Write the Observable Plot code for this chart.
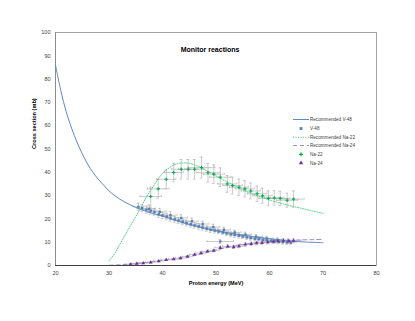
<!DOCTYPE html>
<html><head><meta charset="utf-8">
<script src="https://cdn.jsdelivr.net/npm/d3@7"></script>
<script src="https://cdn.jsdelivr.net/npm/@observablehq/plot@0.6"></script>
<style>body{margin:0;background:#fff}</style></head>
<body><div id="chart"></div>
<script>
const xTicks = [20, 30, 40, 50, 60, 70, 80];
const yTicks = [0, 10, 20, 30, 40, 50, 60, 70, 80, 90, 100];

// Recommended curves
const recV48E = [20, 21, 22, 23, 24, 25, 26, 27, 28, 29, 30, 32, 34, 36, 38, 40, 45, 50, 55, 60, 65, 70];
const recV48S = [86, 75, 66, 59, 53, 48, 43.5, 40, 37, 34.5, 32, 28.5, 26, 24, 22.5, 21.2, 17.6, 15, 13, 11.5, 10.3, 9.8];
const recNa22E = [30, 31, 32, 33, 34, 35, 36, 37, 38, 39, 40, 41, 42, 43, 44, 45, 46, 47, 48, 49, 50, 51, 52, 53, 54, 55, 56, 57, 58, 59, 60, 62, 64, 66, 68, 70];
const recNa22S = [2, 5, 9, 13, 17, 21, 25, 29.5, 33, 36.5, 39.5, 41.5, 43, 43.8, 44, 43.8, 43.2, 42.2, 41, 39.8, 38.5, 37.2, 36, 34.8, 33.6, 32.5, 31.5, 30.6, 29.7, 28.9, 28.1, 26.8, 25.6, 24.5, 23.4, 22.4];
const recNa24E = [30, 32, 34, 36, 38, 40, 42, 44, 46, 48, 50, 52, 54, 56, 58, 60, 62, 64, 66, 68, 70];
const recNa24S = [0.1, 0.3, 0.6, 1.1, 1.6, 2.2, 2.9, 3.7, 4.6, 5.6, 6.7, 7.7, 8.6, 9.3, 9.9, 10.3, 10.6, 10.8, 11.0, 11.1, 11.2];

// V-48 measured
const v48E = [35.5, 36.2, 37.0, 37.8, 38.5, 39.3, 40.0, 40.8, 41.5, 42.3, 43.0, 43.8, 44.5, 45.3, 46.0, 46.8, 47.5, 48.3, 49.0, 49.8, 50.5, 51.3, 52.0, 52.8, 53.5, 54.3, 55.0, 55.8, 56.5, 57.3, 58.0, 58.8, 59.5, 60.3, 61.0, 61.8, 62.5, 63.3, 64.0,
              37.5, 39.5, 41.5, 43.5, 45.5, 47.5, 49.5, 51.5, 53.5, 55.5, 57.5, 59.5, 61.5, 63.5, 50.8];
const v48S = [25.2, 24.6, 24.0, 23.5, 23.0, 22.0, 21.5, 21.0, 20.3, 19.8, 19.3, 18.8, 18.2, 17.7, 17.2, 16.8, 16.3, 15.8, 15.3, 15.0, 14.6, 14.2, 13.8, 13.4, 13.1, 12.8, 12.5, 12.1, 11.8, 11.5, 11.3, 11.0, 10.8, 10.6, 10.4, 10.2, 10.0, 9.9, 9.8,
              24.3, 23.0, 21.6, 20.4, 19.0, 17.8, 16.5, 15.3, 14.2, 13.3, 12.4, 11.6, 11.0, 10.6, 10.3];
const v48dS = [1.5, 1.5, 1.5, 1.5, 1.4, 1.4, 1.4, 1.4, 1.3, 1.3, 1.3, 1.3, 1.2, 1.2, 1.2, 1.2, 1.1, 1.1, 1.1, 1.1, 1.0, 1.0, 1.0, 1.0, 1.0, 1.0, 0.9, 0.9, 0.9, 0.9, 0.9, 0.9, 0.9, 0.8, 0.8, 0.8, 0.8, 0.8, 0.8,
               1.6, 1.5, 1.4, 1.4, 1.3, 1.2, 1.2, 1.1, 1.0, 1.0, 0.9, 0.9, 0.8, 0.8, 0.8];
const v48dE = [1.0, 1.0, 1.0, 1.0, 1.0, 1.0, 1.0, 1.0, 1.0, 1.0, 1.0, 1.0, 1.0, 1.0, 1.0, 1.0, 1.0, 1.0, 1.0, 1.0, 1.0, 1.0, 1.0, 1.0, 1.0, 1.0, 1.0, 1.0, 1.0, 1.0, 1.0, 1.0, 1.0, 1.0, 1.0, 1.0, 1.0, 1.0, 1.0,
               1.2, 1.2, 1.2, 1.2, 1.2, 1.2, 1.2, 1.2, 1.2, 1.2, 1.2, 1.2, 1.2, 1.2, 2.5];

// Na-22 measured
const na22E = [37.8, 39.2, 40.7, 42.1, 43.5, 44.8, 46.0, 47.3, 48.5, 49.6, 50.8, 52.1, 53.1, 54.3, 55.4, 56.5, 57.7, 58.7, 59.8, 60.9, 62.0, 63.3, 64.5];
const na22S = [29.6, 32.9, 37.0, 39.9, 41.3, 41.3, 41.3, 42.0, 39.8, 39.2, 37.9, 35.0, 34.3, 33.6, 32.9, 32.0, 30.8, 29.9, 28.8, 29.0, 28.8, 28.0, 28.5];
const na22dS = [4.0, 4.0, 4.0, 4.0, 4.2, 4.2, 4.2, 4.5, 4.0, 4.0, 4.0, 3.6, 3.6, 3.5, 3.5, 3.4, 3.3, 3.2, 3.2, 3.1, 3.1, 3.0, 3.5];
const na22dE = [2.0, 2.0, 1.8, 1.8, 1.8, 1.8, 1.8, 2.5, 2.2, 2.0, 2.0, 1.8, 1.8, 1.8, 1.8, 1.8, 1.8, 1.8, 1.8, 1.8, 1.8, 2.0, 2.0];

// Na-24 measured
const na24E = [34.0, 35.2, 36.4, 37.8, 39.3, 40.7, 42.1, 43.4, 44.7, 46.0, 47.2, 48.4, 49.6, 50.8, 52.2, 53.3, 54.3, 55.5, 56.6, 57.6, 58.6, 59.7, 60.7, 61.6, 62.6, 63.6, 64.5];
const na24S = [0.5, 0.8, 1.0, 1.3, 1.9, 2.4, 2.7, 3.1, 3.8, 4.6, 5.3, 6.0, 6.4, 7.6, 8.2, 7.9, 8.3, 9.0, 9.3, 9.6, 9.7, 10.0, 10.2, 10.4, 10.7, 10.4, 10.7];
const na24dS = [0.3, 0.3, 0.3, 0.3, 0.3, 0.3, 0.3, 0.4, 0.4, 0.4, 0.5, 0.5, 0.5, 0.6, 0.6, 0.6, 0.7, 0.7, 0.7, 0.8, 0.8, 0.8, 0.8, 0.8, 0.9, 0.8, 0.9];
const na24dE = [1.0, 1.0, 1.0, 1.0, 1.0, 1.0, 1.0, 1.0, 1.0, 1.0, 1.0, 1.0, 1.0, 1.0, 1.0, 1.0, 1.0, 1.0, 1.0, 1.0, 1.0, 1.0, 1.0, 1.0, 1.0, 1.0, 1.5];

const curve = (E, S) => E.map((e, i) => ({E: e, S: S[i]}));
const pts = (E, S, dS, dE) => E.map((e, i) => ({E: e, S: S[i], dS: dS[i], dE: dE[i]}));

const recV48 = curve(recV48E, recV48S);
const recNa22 = curve(recNa22E, recNa22S);
const recNa24 = curve(recNa24E, recNa24S);
const v48 = pts(v48E, v48S, v48dS, v48dE);
const na22 = pts(na22E, na22S, na22dS, na22dE);
const na24 = pts(na24E, na24S, na24dS, na24dE);

const errCol = "#a6a6a6";
function errMarks(data) {
  return [
    Plot.ruleX(data, {x: "E", y1: d => d.S - d.dS, y2: d => d.S + d.dS, stroke: errCol, strokeWidth: 0.6}),
    Plot.ruleY(data, {y: "S", x1: d => d.E - d.dE, x2: d => d.E + d.dE, stroke: errCol, strokeWidth: 0.6}),
    Plot.ruleY(data, {y: d => d.S + d.dS, x1: d => d.E - 0.25, x2: d => d.E + 0.25, stroke: errCol, strokeWidth: 0.6}),
    Plot.ruleY(data, {y: d => d.S - d.dS, x1: d => d.E - 0.25, x2: d => d.E + 0.25, stroke: errCol, strokeWidth: 0.6}),
    Plot.ruleX(data, {x: d => d.E - d.dE, y1: d => d.S - 0.4, y2: d => d.S + 0.4, stroke: errCol, strokeWidth: 0.6}),
    Plot.ruleX(data, {x: d => d.E + d.dE, y1: d => d.S - 0.4, y2: d => d.S + 0.4, stroke: errCol, strokeWidth: 0.6})
  ];
}

const font = "'Liberation Sans', Arial, sans-serif";
const plot = Plot.plot({
  width: 415, height: 321,
  marginLeft: 55, marginRight: 39, marginTop: 32, marginBottom: 56,
  style: {fontSize: "5.5px", fontFamily: font, color: "#404040", background: "#fff"},
  x: {domain: [20, 80], ticks: xTicks, tickSize: 0, tickPadding: 6, label: null},
  y: {domain: [0, 100], ticks: yTicks, tickSize: 0, tickPadding: 5, label: null},
  marks: [
    Plot.frame({stroke: "#8c8c8c", strokeWidth: 0.8}),
    Plot.ruleX([20], {stroke: "#8c8c8c", strokeWidth: 1}),
    ...errMarks(v48),
    ...errMarks(na22),
    ...errMarks(na24),
    Plot.line(recV48, {x: "E", y: "S", curve: "catmull-rom", stroke: "#5B8AC8", strokeWidth: 1}),
    Plot.line(recNa22, {x: "E", y: "S", curve: "catmull-rom", stroke: "#3DCB72", strokeWidth: 0.9, strokeDasharray: "1 1.5"}),
    Plot.line(recNa24, {x: "E", y: "S", curve: "catmull-rom", stroke: "#9B8BC8", strokeWidth: 1, strokeDasharray: "4 3"}),
    Plot.dot(v48, {x: "E", y: "S", symbol: "square", r: 1.3, fill: "#4F81BD"}),
    Plot.dot(na22, {x: "E", y: "S", symbol: "cross", r: 1.4, fill: "#00B050"}),
    Plot.dot(na24, {x: "E", y: "S", symbol: "triangle", r: 1.4, fill: "#7030A0"}),
    Plot.ruleY([0], {stroke: "#404040", strokeWidth: 1}),
    Plot.text(["Monitor reactions"], {frameAnchor: "top", dy: 15, dx: -6, fontSize: 7, fontWeight: "bold", fill: "#000"}),
    Plot.text(["Proton energy (MeV)"], {frameAnchor: "bottom", dy: 19, fontSize: 5.6, fontWeight: "bold", fill: "#000"}),
    Plot.text(["Cross section (mb)"], {frameAnchor: "left", dx: -21, rotate: -90, fontSize: 5.6, fontWeight: "bold", fill: "#000"})
  ]
});

// Legend
const svg = d3.select(plot);
const lg = svg.append("g").attr("font-family", font).attr("font-size", 4.6).attr("fill", "#404040").attr("text-anchor", "start");
const rows = [
  {label: "Recommended V-48", kind: "line", stroke: "#5B8AC8", dash: "none"},
  {label: "V-48", kind: "sym", sym: d3.symbolSquare, fill: "#4F81BD"},
  {label: "Recommended Na-22", kind: "line", stroke: "#3DCB72", dash: "1 1.5"},
  {label: "Recommended Na-24", kind: "line", stroke: "#9B8BC8", dash: "4 3"},
  {label: "Na-22", kind: "sym", sym: d3.symbolCross, fill: "#00B050"},
  {label: "Na-24", kind: "sym", sym: d3.symbolTriangle, fill: "#7030A0"}
];
const ys = [119.5, 128.5, 137.3, 145.5, 154.3, 163];
rows.forEach((r, i) => {
  const y = ys[i];
  if (r.kind === "line") {
    lg.append("line").attr("x1", 293).attr("x2", 309).attr("y1", y).attr("y2", y)
      .attr("stroke", r.stroke).attr("stroke-width", 1).attr("stroke-dasharray", r.dash);
  } else {
    lg.append("path").attr("d", d3.symbol(r.sym, 8)()).attr("transform", `translate(301,${y})`).attr("fill", r.fill);
  }
  lg.append("text").attr("x", 310).attr("y", y).attr("dy", "0.35em").attr("text-anchor", "start").text(r.label);
});

document.getElementById("chart").appendChild(plot);
</script>
</body></html>
